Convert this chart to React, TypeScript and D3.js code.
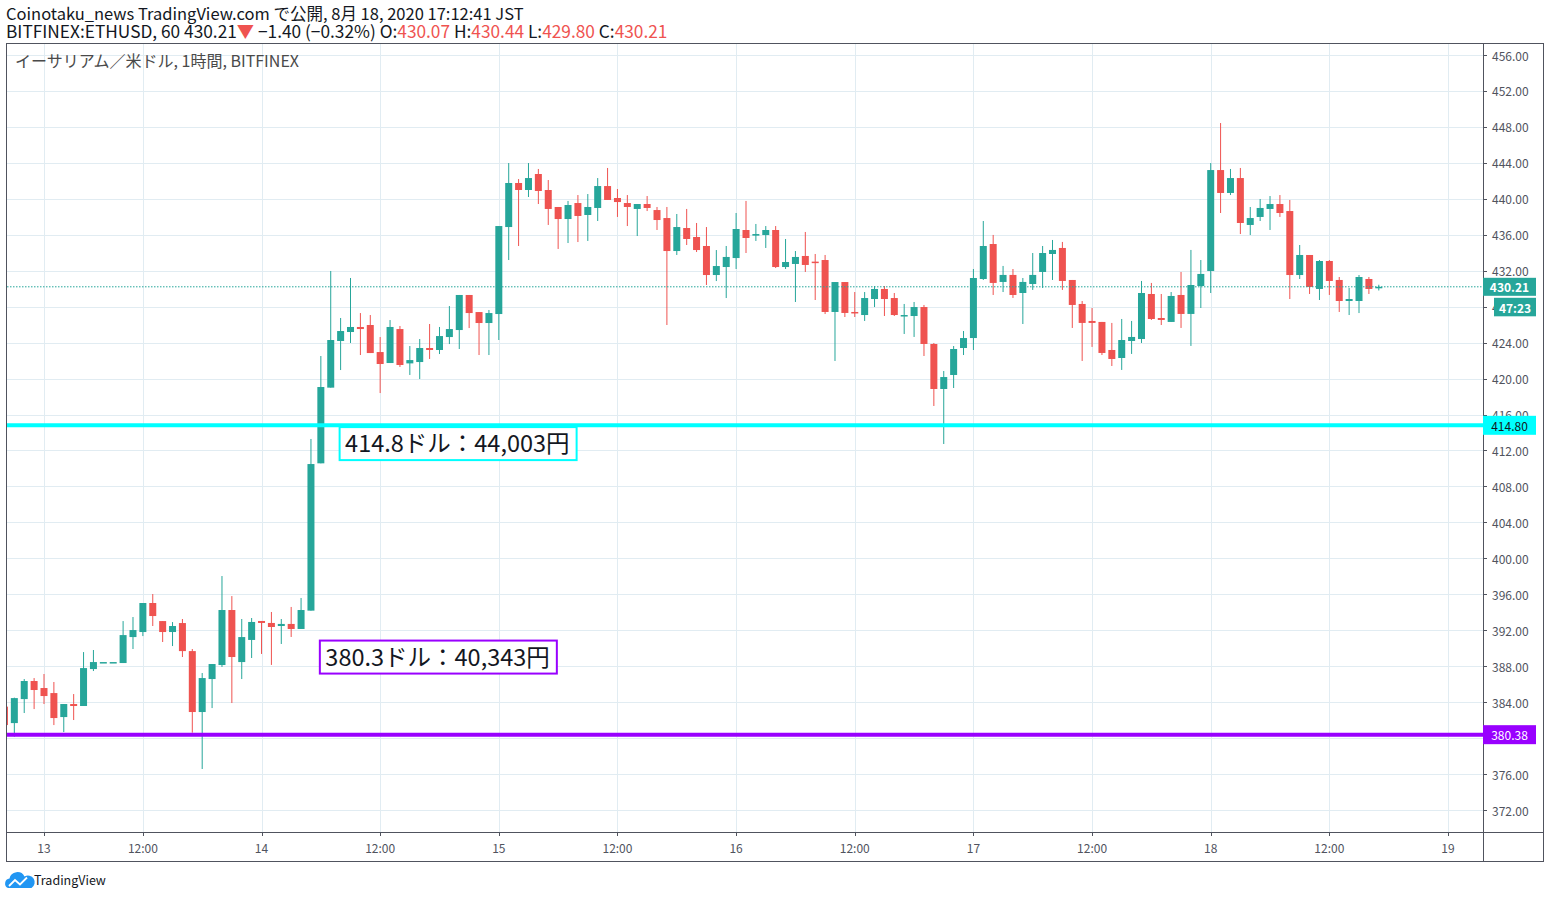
import React from "react";
import * as d3 from "d3";

const GREEN = "#26a69a";
const RED = "#ef5350";
const FRAME = "#50535e";
const GRID = "#e1ecf2";
const TEXT = "#131722";
const FONT = "'Noto Sans CJK JP', 'Noto Sans', sans-serif";

// hourly bars, BITFINEX:ETHUSD, first bar = Aug 12 20:00 (two bars missing on the 13th)
// [open, high, low, close]
const ohlc: [number, number, number, number][] = [
  [383.5, 383.9, 381.0, 381.45],
  [381.67, 384.5, 380.15, 384.45],
  [384.34, 386.57, 382.79, 386.35],
  [386.35, 386.68, 383.23, 385.35],
  [385.57, 387.13, 383.79, 384.68],
  [385.01, 386.24, 381.45, 382.23],
  [382.34, 383.79, 380.67, 383.79],
  [383.79, 384.9, 382.01, 383.57],
  [383.57, 389.57, 383.57, 387.79],
  [387.68, 389.8, 387.46, 388.46],
  [388.46, 388.46, 388.46, 388.46],
  [388.46, 388.46, 388.46, 388.46],
  [388.35, 393.02, 388.35, 391.46],
  [391.24, 393.47, 389.91, 392.02],
  [391.8, 395.03, 391.35, 395.03],
  [395.03, 396.03, 392.47, 393.58],
  [393.02, 393.02, 390.69, 391.8],
  [391.8, 392.91, 390.24, 392.47],
  [392.8, 393.25, 389.02, 389.68],
  [389.68, 389.91, 380.6, 382.9],
  [382.9, 387.24, 376.56, 386.68],
  [386.57, 388.24, 383.34, 388.24],
  [388.13, 398.03, 387.91, 394.25],
  [394.25, 395.8, 383.9, 389.02],
  [388.46, 393.25, 386.57, 391.24],
  [390.92, 393.36, 388.91, 392.92],
  [393.03, 393.03, 389.36, 392.81],
  [392.81, 394.03, 388.14, 392.36],
  [392.47, 393.25, 390.47, 392.7],
  [392.7, 394.59, 391.25, 392.14],
  [392.14, 395.59, 392.14, 394.25],
  [394.18, 413.28, 394.18, 410.49],
  [410.57, 422.51, 410.57, 419.06],
  [418.99, 431.97, 418.99, 424.29],
  [424.18, 426.74, 420.95, 425.29],
  [425.18, 431.19, 423.96, 425.74],
  [425.74, 427.29, 422.62, 425.51],
  [425.96, 427.07, 422.84, 422.84],
  [422.95, 424.62, 418.39, 421.62],
  [421.73, 426.51, 421.73, 425.74],
  [425.51, 425.85, 421.29, 421.51],
  [421.69, 423.62, 420.4, 422.06],
  [421.84, 424.4, 419.95, 423.4],
  [423.4, 426.07, 422.18, 423.18],
  [423.18, 425.74, 422.73, 424.73],
  [424.62, 428.07, 423.84, 425.51],
  [425.4, 429.3, 423.29, 429.3],
  [429.3, 429.3, 425.62, 427.29],
  [427.4, 427.4, 422.62, 426.18],
  [426.18, 427.63, 422.62, 427.29],
  [427.18, 436.97, 424.29, 436.97],
  [436.86, 443.98, 433.19, 441.76],
  [441.76, 442.2, 434.75, 440.98],
  [440.98, 443.98, 440.2, 442.31],
  [442.76, 443.32, 439.42, 440.87],
  [440.98, 442.09, 437.09, 438.87],
  [439.09, 439.09, 434.42, 437.75],
  [437.75, 439.76, 435.08, 439.31],
  [439.53, 440.42, 435.19, 438.09],
  [438.2, 440.53, 435.31, 439.09],
  [438.98, 442.31, 437.53, 441.42],
  [441.42, 443.43, 439.87, 439.87],
  [440.09, 441.09, 437.98, 439.64],
  [439.53, 440.42, 436.97, 439.09],
  [438.87, 439.42, 435.86, 439.42],
  [439.42, 440.31, 438.64, 438.98],
  [438.75, 439.09, 436.53, 437.64],
  [437.86, 439.09, 425.96, 434.19],
  [434.19, 438.31, 433.75, 436.86],
  [436.75, 438.87, 434.86, 435.53],
  [435.75, 437.31, 434.08, 434.3],
  [434.75, 436.86, 430.41, 431.52],
  [431.52, 434.3, 430.85, 432.52],
  [432.41, 434.75, 428.96, 433.53],
  [433.41, 438.42, 432.19, 436.64],
  [436.53, 439.76, 433.97, 435.64],
  [435.9, 437.2, 435.31, 436.08],
  [435.97, 436.97, 434.53, 436.53],
  [436.53, 436.97, 432.3, 432.41],
  [432.41, 435.53, 432.19, 432.97],
  [432.75, 434.19, 428.52, 433.53],
  [433.64, 436.31, 431.86, 432.64],
  [433.01, 433.86, 428.74, 432.86],
  [433.19, 433.75, 427.18, 427.41],
  [427.41, 430.74, 421.96, 430.74],
  [430.74, 430.74, 426.85, 427.3],
  [427.41, 429.63, 426.85, 427.26],
  [427.07, 429.63, 426.41, 428.96],
  [428.85, 430.3, 427.96, 429.97],
  [429.97, 430.3, 426.96, 428.85],
  [428.96, 429.52, 426.96, 427.07],
  [426.96, 428.3, 424.96, 427.07],
  [426.96, 428.52, 424.63, 427.96],
  [427.96, 428.19, 422.51, 423.85],
  [423.85, 423.96, 416.95, 418.84],
  [418.84, 420.84, 412.72, 420.17],
  [420.4, 423.62, 418.95, 423.29],
  [423.4, 425.29, 422.62, 424.51],
  [424.51, 432.19, 423.18, 431.19],
  [431.08, 437.53, 430.97, 434.75],
  [434.97, 435.98, 429.3, 430.64],
  [430.75, 432.53, 429.63, 431.53],
  [431.53, 432.19, 428.97, 429.3],
  [429.52, 431.19, 426.07, 430.75],
  [430.52, 433.97, 429.86, 431.53],
  [431.86, 434.75, 430.08, 433.97],
  [433.86, 435.42, 430.97, 434.31],
  [434.53, 435.2, 429.86, 430.86],
  [430.97, 430.97, 425.63, 428.19],
  [428.3, 428.63, 421.96, 426.19],
  [426.41, 427.85, 423.52, 426.19],
  [426.3, 426.3, 422.62, 422.85],
  [423.18, 426.19, 421.4, 422.18],
  [422.29, 426.63, 420.96, 424.29],
  [424.18, 426.41, 422.74, 424.63],
  [424.4, 430.86, 423.96, 429.52],
  [429.41, 430.64, 426.52, 426.63],
  [426.74, 429.41, 425.96, 426.52],
  [426.3, 429.63, 426.3, 429.19],
  [429.3, 431.86, 425.63, 427.19],
  [427.19, 434.31, 423.63, 430.41],
  [430.3, 433.19, 427.85, 431.64],
  [431.97, 443.98, 429.52, 443.2],
  [443.2, 448.43, 438.42, 440.65],
  [440.65, 443.32, 440.42, 442.31],
  [442.31, 443.43, 436.08, 437.31],
  [437.09, 439.09, 435.97, 437.86],
  [437.98, 439.98, 437.53, 438.98],
  [438.87, 440.31, 436.53, 439.42],
  [439.42, 440.42, 437.98, 438.42],
  [438.64, 439.87, 428.85, 431.52],
  [431.52, 434.86, 431.08, 433.75],
  [433.75, 433.75, 429.41, 430.19],
  [429.97, 433.19, 428.74, 433.08],
  [433.08, 433.19, 429.3, 430.86],
  [430.97, 431.3, 427.41, 428.63],
  [428.63, 430.08, 427.07, 428.85],
  [428.63, 431.52, 427.29, 431.3],
  [431.08, 431.3, 429.41, 429.97],
  [430.07, 430.44, 429.8, 430.21],
];

// bar index -> axis label
const timeTicks: { bar: number; label: string }[] = [
  { bar: 4, label: "13" },
  { bar: 14, label: "12:00" },
  { bar: 26, label: "14" },
  { bar: 38, label: "12:00" },
  { bar: 50, label: "15" },
  { bar: 62, label: "12:00" },
  { bar: 74, label: "16" },
  { bar: 86, label: "12:00" },
  { bar: 98, label: "17" },
  { bar: 110, label: "12:00" },
  { bar: 122, label: "18" },
  { bar: 134, label: "12:00" },
  { bar: 146, label: "19" },
];

const priceTicks = [
  372, 376, 380, 384, 388, 392, 396, 400, 404, 408, 412, 416, 420, 424, 428,
  432, 436, 440, 444, 448, 452, 456,
];
// the 380 label sits fully under the purple tag
const hiddenTicks = [380];

const lastPrice = 430.21;
const countdown = "47:23";

const levels = [
  { price: 414.8, color: "#00ffff", tag: "414.80", tagText: TEXT, note: "414.8ドル：44,003円", noteBar: 34, noteTop: 414.6 },
  { price: 380.38, color: "#9900ff", tag: "380.38", tagText: "#ffffff", note: "380.3ドル：40,343円", noteBar: 32, noteTop: 390.85 },
];

const W = 1550;
const H = 898;
const plot = { left: 7, right: 1483, top: 44, bottom: 832 };
const frame = { left: 6.5, right: 1543.5, top: 43.5, bottom: 861.5 };

export default function App() {
  const x = d3.scaleLinear().domain([4, 146]).range([44, 1448]);
  const y = d3.scaleLinear().domain([372, 456]).range([810, 55]);
  const bodyW = 7;

  return (
    <svg
      width={W}
      height={H}
      style={{ position: "absolute", left: 0, top: 0, background: "#fff" }}
      fontFamily={FONT}
    >
      <defs>
        <clipPath id="plot">
          <rect x={plot.left} y={plot.top} width={plot.right - plot.left} height={plot.bottom - plot.top} />
        </clipPath>
      </defs>
      <rect width={W} height={H} fill="#fff" />

      {/* header */}
      <g fill={TEXT}>
        <text x={6} y={20} fontSize={16.5}>
          Coinotaku_news TradingView.com で公開, 8月 18, 2020 17:12:41 JST
        </text>
        <text x={6} y={38} fontSize={17.3}>
          BITFINEX:ETHUSD, 60 430.21
          <tspan fill={RED}>▼</tspan>
          <tspan> −1.40 (−0.32%) O:</tspan>
          <tspan fill={RED}>430.07</tspan>
          <tspan> H:</tspan>
          <tspan fill={RED}>430.44</tspan>
          <tspan> L:</tspan>
          <tspan fill={RED}>429.80</tspan>
          <tspan> C:</tspan>
          <tspan fill={RED}>430.21</tspan>
        </text>
      </g>

      {/* grid */}
      <g stroke={GRID} strokeWidth={1}>
        {priceTicks.map((p) => (
          <line key={p} x1={plot.left} x2={plot.right} y1={Math.round(y(p)) + 0.5} y2={Math.round(y(p)) + 0.5} />
        ))}
        {timeTicks.map((t) => (
          <line key={t.bar} x1={Math.round(x(t.bar)) + 0.5} x2={Math.round(x(t.bar)) + 0.5} y1={plot.top} y2={plot.bottom} />
        ))}
      </g>

      <text x={15} y={67} fontSize={16} fill="#4a4a4a">
        イーサリアム／米ドル, 1時間, BITFINEX
      </text>

      {/* candles */}
      <g clipPath="url(#plot)">
        {ohlc.map(([o, h, l, c], i) => {
          const cx = x(i);
          const col = c >= o ? GREEN : RED;
          const top = y(Math.max(o, c));
          const bh = Math.max(1.5, y(Math.min(o, c)) - top);
          return (
            <g key={i}>
              <line x1={cx} x2={cx} y1={y(h)} y2={y(l)} stroke={col} strokeWidth={1} />
              <rect x={cx - bodyW / 2} y={top} width={bodyW} height={bh} fill={col} />
            </g>
          );
        })}

        <line
          x1={plot.left}
          x2={plot.right}
          y1={y(lastPrice)}
          y2={y(lastPrice)}
          stroke={GREEN}
          strokeWidth={1}
          strokeDasharray="1.5,1.5"
        />

        {levels.map((lv) => (
          <line key={lv.tag} x1={plot.left} x2={plot.right} y1={y(lv.price)} y2={y(lv.price)} stroke={lv.color} strokeWidth={4} />
        ))}

        {levels.map((lv) => {
          const bx = x(lv.noteBar) - 1;
          const by = y(lv.noteTop);
          return (
            <g key={lv.note}>
              <rect x={bx} y={by} width={237} height={33} fill="#fff" stroke={lv.color} strokeWidth={2} />
              <text x={bx + 5.5} y={by + 25} fontSize={23.5} fill={TEXT}>
                {lv.note}
              </text>
            </g>
          );
        })}
      </g>

      {/* frame */}
      <g stroke={FRAME} strokeWidth={1} fill="none">
        <rect x={frame.left} y={frame.top} width={frame.right - frame.left} height={frame.bottom - frame.top} />
        <line x1={plot.right + 0.5} x2={plot.right + 0.5} y1={frame.top} y2={frame.bottom} />
        <line x1={frame.left} x2={frame.right} y1={plot.bottom + 0.5} y2={plot.bottom + 0.5} />
      </g>

      {/* price axis */}
      <g fontSize={12} fill={FRAME}>
        {priceTicks.map((p) => (
          <g key={p}>
            <line x1={plot.right} x2={plot.right + 4} y1={Math.round(y(p)) + 0.5} y2={Math.round(y(p)) + 0.5} stroke={FRAME} />
            {!hiddenTicks.includes(p) && (
              <text x={plot.right + 9} y={y(p)} dominantBaseline="central">
                {p.toFixed(2)}
              </text>
            )}
          </g>
        ))}
      </g>

      {/* time axis */}
      <g fontSize={12} fill={FRAME}>
        {timeTicks.map((t) => (
          <g key={t.bar}>
            <line x1={Math.round(x(t.bar)) + 0.5} x2={Math.round(x(t.bar)) + 0.5} y1={plot.bottom} y2={plot.bottom + 4} stroke={FRAME} />
            <text x={x(t.bar)} y={847} textAnchor="middle" dominantBaseline="central">
              {t.label}
            </text>
          </g>
        ))}
      </g>

      {/* axis tags */}
      <g fontSize={12} fontWeight="bold">
        <rect x={plot.right} y={y(lastPrice) - 9} width={53} height={18} fill={GREEN} />
        <text x={plot.right + 26.5} y={y(lastPrice)} fill="#fff" textAnchor="middle" dominantBaseline="central">
          {lastPrice.toFixed(2)}
        </text>
        <rect x={plot.right + 11} y={y(lastPrice) + 11} width={42} height={18.5} fill={GREEN} />
        <text x={plot.right + 32} y={y(lastPrice) + 20.5} fill="#fff" textAnchor="middle" dominantBaseline="central">
          {countdown}
        </text>
      </g>
      {levels.map((lv) => (
        <g key={lv.tag}>
          <rect x={plot.right} y={y(lv.price) - 9.5} width={53} height={19} fill={lv.color} />
          <text
            x={plot.right + 26.5}
            y={y(lv.price)}
            fontSize={12}
            fill={lv.tagText}
            textAnchor="middle"
            dominantBaseline="central"
          >
            {lv.tag}
          </text>
        </g>
      ))}

      {/* logo */}
      <g>
        <path
          d="M8 888 a5 5 0 0 1 1.5 -9.5 a8 8 0 0 1 15 -2 a5.5 5.5 0 0 1 7 11.5 Z"
          fill="#2196f3"
        />
        <polyline points="9,886 15,880 20,884.5 27,877.5" fill="none" stroke="#fff" strokeWidth={1.8} />
        <text x={34} y={885} fontSize={12.5} fill={TEXT}>
          TradingView
        </text>
      </g>
    </svg>
  );
}
